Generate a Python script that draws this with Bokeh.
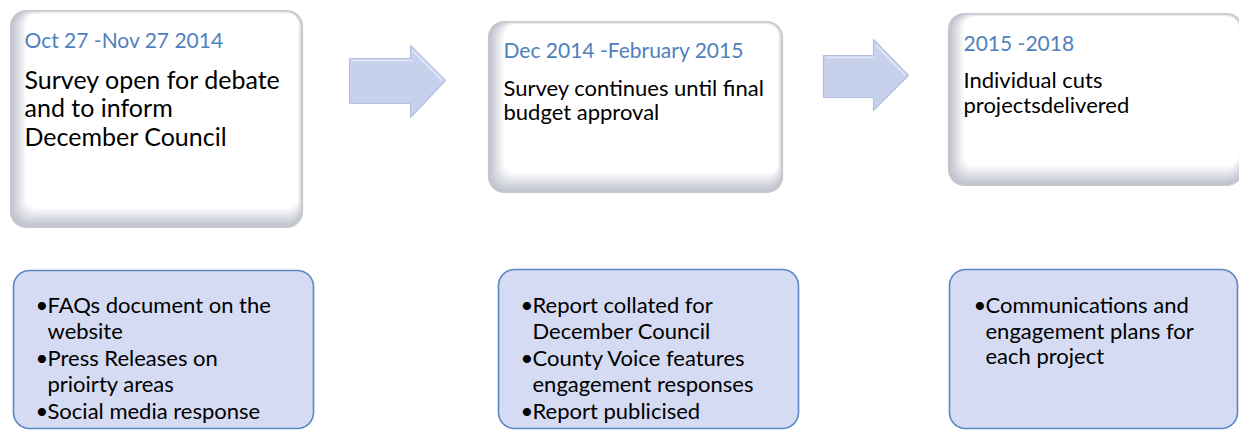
import numpy as np
from bokeh.plotting import figure
from bokeh.models import Range1d
from bokeh.core.properties import value
from bokeh.embed import file_html
from bokeh.resources import INLINE

# ---------------- data ----------------
stage_titles = ["Oct 27 -Nov 27 2014", "Dec 2014 -February 2015", "2015 -2018"]
stage_texts = [
    ["Survey open for debate", "and to inform", "December Council"],
    ["Survey continues until final", "budget approval"],
    ["Individual cuts", "projectsdelivered"],
]
stage_actions = [
    [["FAQs document on the", "website"], ["Press Releases on", "prioirty areas"], ["Social media response"]],
    [["Report collated for", "December Council"], ["County Voice features", "engagement responses"], ["Report  publicised"]],
    [["Communications and", "engagement plans for", "each project"]],
]

# ---------------- layout / style ----------------
FONT = value("Lato")
top_boxes = [(10, 10, 302, 227), (488, 21, 782, 192), (948, 13, 1242, 185)]
title_pos = [(24, 39), (503, 49), (963, 42)]
body_first = [78, 87, 79]
body_step = [28.5, 24, 25]
body_size = ["25px", "22px", "22px"]
title_size = "21px"
bottom_boxes = [(13, 270, 313, 428), (498, 269, 798, 428), (949, 269, 1237, 428)]
bullet_x = [35, 520, 973]
text_x = [47, 532, 985]
line_step = 25.5
bullet_gap = 27.5
bottom_first = 304
bottom_size = "22px"

arrows = [
    dict(x0=349, xh=410, xt=445, sy0=58, sy1=103, hy0=45, hy1=117, ty=80),
    dict(x0=823, xh=873, xt=908, sy0=55, sy1=97, hy0=39, hy1=110, ty=75),
]


def rrect(x0, y0, x1, y1, r, n=10):
    xs, ys = [], []
    specs = [((x0 + r, y0 + r), 180, 270), ((x1 - r, y0 + r), 270, 360),
             ((x1 - r, y1 - r), 0, 90), ((x0 + r, y1 - r), 90, 180)]
    for (cx, cy), a0, a1 in specs:
        for a in np.linspace(np.radians(a0), np.radians(a1), n):
            xs.append(cx + r * np.cos(a))
            ys.append(cy + r * np.sin(a))
    return xs, ys


W, H = 1239, 430
p = figure(width=W, height=H, x_range=Range1d(0, W), y_range=Range1d(H, 0),
           output_backend="svg", toolbar_location=None, min_border=0,
           x_axis_location=None, y_axis_location=None, background_fill_color="white",
           border_fill_color="white")
p.outline_line_color = None
p.xgrid.visible = False
p.ygrid.visible = False

# top boxes: bevelled white rounded rectangles
outer = np.array([190, 192, 204])
N = 9
for (x0, y0, x1, y1) in top_boxes:
    xs, ys = rrect(x0, y0, x1, y1, 16)
    p.patch(xs, ys, fill_color="#c2c4ce", line_color="#c8c8cc", line_width=1.2)
    for i in range(1, N + 1):
        t = i / N
        c = outer + (255 - outer) * t
        col = "#%02x%02x%02x" % tuple(int(v) for v in c)
        xs, ys = rrect(x0 + 15 * t, y0 + 3 * t, x1 - 4 * t, y1 - 19 * t, 16 - 4 * t)
        p.patch(xs, ys, fill_color=col, line_color=None)

# arrows
for a in arrows:
    xs = [a["x0"], a["xh"], a["xh"], a["xt"], a["xh"], a["xh"], a["x0"]]
    ys = [a["sy0"], a["sy0"], a["hy0"], a["ty"], a["hy1"], a["sy1"], a["sy1"]]
    p.patch(xs, ys, fill_color="#c7d1ec", line_color="#b3c0e2", line_width=1.2)
    p.line([a["x0"] + 2, a["xh"] + 2], [a["sy0"] + 2, a["sy0"] + 2], line_color="#dde4f5", line_width=2)
    p.line([a["xh"] + 2, a["xt"] - 3], [a["hy0"] + 5, a["ty"]], line_color="#dde4f5", line_width=2)

# top box texts
for i in range(3):
    tx, ty = title_pos[i]
    p.text(x=[tx], y=[ty], text=[stage_titles[i]], text_font=FONT, text_font_size=title_size,
           text_color="#4f81bd", text_baseline="middle", text_align="left")
    lines = stage_texts[i]
    ys = [body_first[i] + k * body_step[i] for k in range(len(lines))]
    p.text(x=[tx] * len(lines), y=ys, text=lines, text_font=FONT, text_font_size=body_size[i],
           text_color="black", text_baseline="middle", text_align="left")

# bottom boxes
for i, (x0, y0, x1, y1) in enumerate(bottom_boxes):
    xs, ys = rrect(x0, y0, x1, y1, 16)
    p.patch(xs, ys, fill_color="#d5dbf2", line_color="#5b87c5", line_width=1.6)
    y = bottom_first
    bx, by, lx, ly, lt = [], [], [], [], []
    for bullet in stage_actions[i]:
        bx.append(bullet_x[i])
        by.append(y)
        for k, line in enumerate(bullet):
            lx.append(text_x[i])
            ly.append(y)
            lt.append(line)
            if k < len(bullet) - 1:
                y += line_step
        y += bullet_gap
    p.text(x=bx, y=by, text=["•"] * len(bx), text_font=FONT, text_font_size=bottom_size,
           text_color="black", text_baseline="middle", text_align="left")
    p.text(x=lx, y=ly, text=lt, text_font=FONT, text_font_size=bottom_size,
           text_color="black", text_baseline="middle", text_align="left")

open("out.html", "w").write(file_html(p, INLINE))
